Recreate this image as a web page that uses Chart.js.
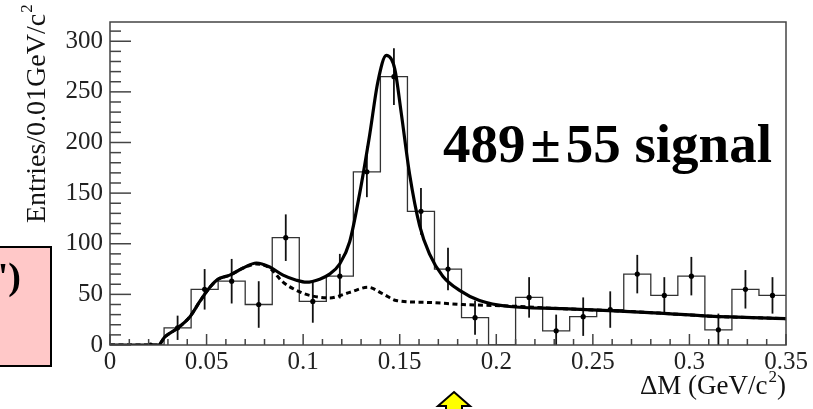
<!DOCTYPE html>
<html>
<head>
<meta charset="utf-8">
<script src="https://cdn.jsdelivr.net/npm/chart.js@4.4.0/dist/chart.umd.min.js"></script>
<style>
  body { margin: 0; background: #fff; }
  #wrap { position: relative; width: 813px; height: 409px; }
</style>
</head>
<body>
<div id="wrap"><canvas id="grafico" width="813" height="409"></canvas></div>
<script>
// histogram bins (low edges), 25 bins of 0.014 from 0 to 0.35
const binLow = [0, 0.014, 0.028, 0.042, 0.056, 0.07, 0.084, 0.098, 0.112, 0.126,
  0.14, 0.154, 0.168, 0.182, 0.196, 0.21, 0.224, 0.238, 0.252, 0.266,
  0.28, 0.294, 0.308, 0.322, 0.336];
const binWidth = 0.014;
const entries = [0, 0, 17, 55, 63, 40, 106, 43, 68, 171, 265, 132, 75, 27, 0,
  47, 14, 28, 35, 70, 49, 68, 15, 55, 49];
// data points (null = no marker drawn)
const puntos = [null, 0, 17, 55, 63, 40, 106, 43, 68, 171, 265, 132, 75, 27, null,
  47, 14, 28, 35, 70, 49, 68, 15, 55, 49];
const errores = [0, 0, 12, 20, 22, 23, 23, 21, 22, 25, 28, 23, 21, 17, 0,
  20, 16, 19, 18, 19, 18, 19, 16, 19, 18];

// total fit (solid)
const fitX = [0, 0.025, 0.0284, 0.0345, 0.0414, 0.0465, 0.0517, 0.056, 0.062, 0.0689,
  0.0758, 0.0827, 0.0896, 0.0965, 0.1017, 0.1086, 0.1137, 0.1189, 0.1241, 0.1293,
  0.1344, 0.1387, 0.1431, 0.1474, 0.1508, 0.1551, 0.1603, 0.1654, 0.1723, 0.181,
  0.1913, 0.2068, 0.2327, 0.2585, 0.2844, 0.3103, 0.35];
const fitY = [0, 0, 8, 16, 28, 43, 57, 65, 69, 76,
  81, 77, 69, 64, 62, 65, 70, 80, 102, 150,
  207, 260, 286, 273, 229, 169, 118, 90, 68, 54,
  44, 38, 36, 34, 31.5, 28.5, 26];

// background (dashed)
const bkgX = [0, 0.025, 0.0284, 0.0345, 0.0414, 0.0465, 0.0517, 0.056, 0.062, 0.0689,
  0.0758, 0.0827, 0.0896, 0.0965, 0.1034, 0.1137, 0.1241, 0.1336, 0.1413, 0.1482,
  0.1654, 0.1827, 0.2068, 0.2327, 0.2585, 0.2844, 0.3103, 0.35];
const bkgY = [0, 0, 8, 16, 28, 43, 57, 65, 69, 76,
  80, 76, 62, 54, 49, 46.5, 52, 57, 50.5, 44,
  42, 40, 38.5, 36, 34, 31.5, 28.5, 26];

const serif = "'Liberation Serif', 'DejaVu Serif', serif";

// histogram outline: each bin value held from its low edge to the next one
const histData = binLow.map((x, i) => ({ x: x, y: entries[i] }));
histData.push({ x: binLow[binLow.length - 1] + binWidth, y: entries[entries.length - 1] });

const ptsData = [];
puntos.forEach((v, i) => {
  if (v !== null) ptsData.push({ x: binLow[i] + binWidth / 2, y: v, err: errores[i] });
});

const rootPlugin = {
  id: "rootStyle",
  beforeDatasetsDraw(chart) {
    const ctx = chart.ctx;
    const xs = chart.scales.x;
    const ys = chart.scales.y;
    // error bars
    ctx.save();
    ctx.strokeStyle = "#111";
    ctx.lineWidth = 1.8;
    ptsData.forEach(p => {
      if (!p.err) return;
      const px = xs.getPixelForValue(p.x);
      ctx.beginPath();
      ctx.moveTo(px, ys.getPixelForValue(p.y + p.err));
      ctx.lineTo(px, ys.getPixelForValue(Math.max(0, p.y - p.err)));
      ctx.stroke();
    });
    ctx.restore();
  },
  afterDraw(chart) {
    const ctx = chart.ctx;
    const area = chart.chartArea;
    const xs = chart.scales.x;
    const ys = chart.scales.y;
    ctx.save();

    // tick marks inside the frame
    ctx.strokeStyle = "#444";
    ctx.lineWidth = 1.5;
    ys.ticks.forEach(t => {
      const py = ys.getPixelForValue(t.value);
      const len = t.value % 50 === 0 ? 21 : 11;
      ctx.beginPath();
      ctx.moveTo(area.left, py);
      ctx.lineTo(area.left + len, py);
      ctx.stroke();
    });
    xs.ticks.forEach(t => {
      const px = xs.getPixelForValue(t.value);
      const len = Math.round(t.value * 100) % 5 === 0 ? 11 : 6;
      ctx.beginPath();
      ctx.moveTo(px, area.bottom);
      ctx.lineTo(px, area.bottom - len);
      ctx.stroke();
    });

    // frame
    ctx.strokeStyle = "#444";
    ctx.lineWidth = 1.5;
    ctx.strokeRect(area.left, area.top, area.right - area.left, area.bottom - area.top);

    ctx.fillStyle = "#111";
    ctx.textBaseline = "alphabetic";

    // y title
    ctx.save();
    ctx.translate(45, 223);
    ctx.rotate(-Math.PI / 2);
    ctx.font = "28px " + serif;
    ctx.textAlign = "left";
    const yt = "Entries/0.01GeV/c";
    ctx.fillText(yt, 0, 0);
    const ytw = ctx.measureText(yt).width;
    ctx.font = "17px " + serif;
    ctx.fillText("2", ytw + 1, -13);
    ctx.restore();

    // x title
    ctx.textAlign = "left";
    ctx.font = "27px " + serif;
    const xa = "\u0394M (GeV/c";
    const wa = ctx.measureText(xa).width;
    const wc = ctx.measureText(")").width;
    ctx.font = "17px " + serif;
    const wb = ctx.measureText("2").width;
    let x0 = 786 - (wa + wb + 1 + wc);
    ctx.font = "27px " + serif;
    ctx.fillText(xa, x0, 394);
    ctx.font = "17px " + serif;
    ctx.fillText("2", x0 + wa + 1, 382);
    ctx.font = "27px " + serif;
    ctx.fillText(")", x0 + wa + wb + 1, 394);

    // signal yield
    ctx.fillStyle = "#000";
    ctx.font = "bold 55px " + serif;
    let sx = 443;
    ctx.fillText("489", sx, 162);
    sx += ctx.measureText("489").width + 5;
    ctx.fillText("\u00b1", sx, 162);
    sx += ctx.measureText("\u00b1").width + 5;
    ctx.fillText("55 signal", sx, 162);

    // pink label box at the left edge
    ctx.fillStyle = "#ffc8c8";
    ctx.fillRect(-3, 247, 54, 119);
    ctx.strokeStyle = "#000";
    ctx.lineWidth = 2;
    ctx.strokeRect(-3, 247, 54, 119);
    ctx.fillStyle = "#000";
    ctx.font = "bold 38px " + serif;
    ctx.textAlign = "right";
    ctx.fillText("')", 21, 289);

    // yellow arrow below the axis
    ctx.beginPath();
    ctx.moveTo(454, 392);
    ctx.lineTo(470, 406);
    ctx.lineTo(462, 406);
    ctx.lineTo(462, 412);
    ctx.lineTo(446, 412);
    ctx.lineTo(446, 406);
    ctx.lineTo(438, 406);
    ctx.closePath();
    ctx.fillStyle = "#ffff00";
    ctx.fill();
    ctx.strokeStyle = "#000";
    ctx.lineWidth = 2;
    ctx.stroke();

    ctx.restore();
  }
};

const ctx = document.getElementById("grafico").getContext("2d");
const grafico = new Chart(ctx, {
  type: "line",
  data: {
    datasets: [
      {
        data: ptsData,
        showLine: false,
        pointRadius: 2.6,
        pointBackgroundColor: "#000",
        pointBorderColor: "#000",
        pointBorderWidth: 0,
        order: 0,
      },
      {
        data: fitX.map((x, i) => ({ x: x, y: fitY[i] })),
        borderColor: "#000",
        borderWidth: 3.2,
        pointRadius: 0,
        cubicInterpolationMode: "monotone",
        fill: false,
        order: 1,
      },
      {
        data: bkgX.map((x, i) => ({ x: x, y: bkgY[i] })),
        borderColor: "#000",
        borderWidth: 3,
        borderDash: [5, 3.5],
        pointRadius: 0,
        cubicInterpolationMode: "monotone",
        fill: false,
        order: 2,
      },
      {
        data: histData,
        stepped: "before",
        borderColor: "#333",
        borderWidth: 1.3,
        pointRadius: 0,
        fill: false,
        order: 3,
      },
    ],
  },
  options: {
    responsive: false,
    animation: false,
    layout: {
      padding: { left: 0, right: 27, top: 8, bottom: 0 },
    },
    scales: {
      x: {
        type: "linear",
        min: 0,
        max: 0.35,
        grid: { display: false, drawTicks: false },
        border: { display: false },
        ticks: {
          stepSize: 0.01,
          autoSkip: false,
          maxRotation: 0,
          padding: 2,
          color: "#222",
          font: { family: serif, size: 25 },
          callback: v => {
            const r = Math.round(v * 100);
            return r % 5 === 0 ? String(r / 100) : "";
          },
        },
        afterFit: s => { s.height = 64; },
      },
      y: {
        min: 0,
        max: 319,
        grid: { display: false, drawTicks: false },
        border: { display: false },
        ticks: {
          stepSize: 10,
          includeBounds: false,
          autoSkip: false,
          padding: 7,
          color: "#222",
          font: { family: serif, size: 25 },
          callback: v => (v % 50 === 0 ? String(v) : ""),
        },
        afterFit: s => { s.width = 110; },
      },
    },
    plugins: {
      legend: { display: false },
      tooltip: { enabled: false },
    },
  },
  plugins: [rootPlugin],
});
</script>
</body>
</html>
